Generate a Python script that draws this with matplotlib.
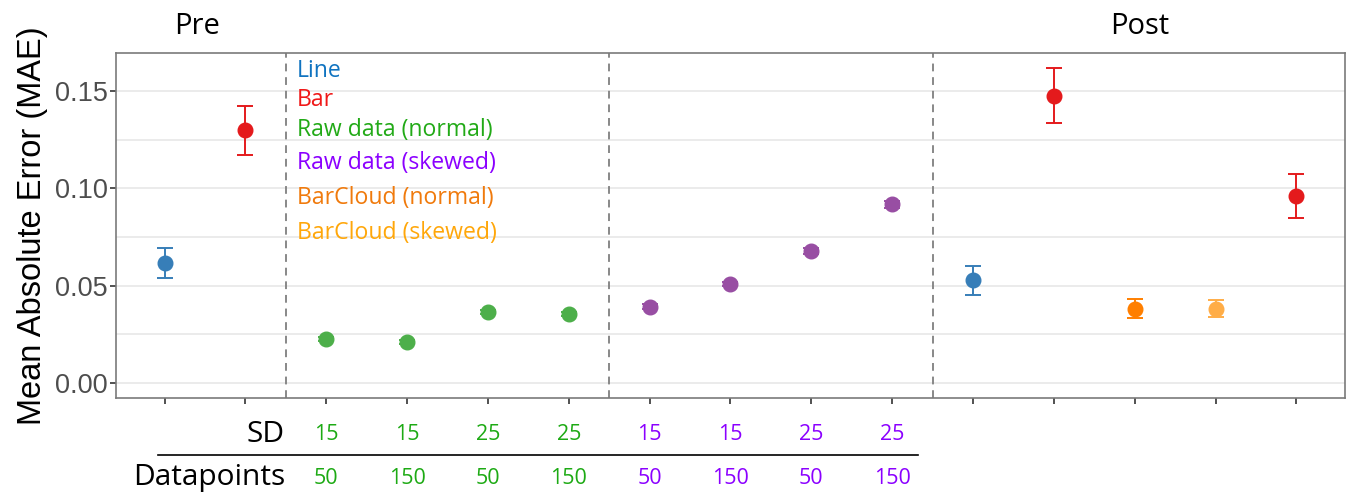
import matplotlib
matplotlib.use("Agg")
import matplotlib.pyplot as plt
from matplotlib import transforms
from matplotlib.lines import Line2D

# ---- data -------------------------------------------------------------
positions = list(range(1, 16))
mae = [0.0615, 0.1300, 0.0224, 0.0210, 0.0365, 0.0355, 0.0392, 0.0509,
       0.0680, 0.0918, 0.0528, 0.1475, 0.0382, 0.0380, 0.0963]
err_low = [0.0075, 0.0130, 0.0010, 0.0010, 0.0012, 0.0012, 0.0012, 0.0012,
           0.0015, 0.0018, 0.0078, 0.0137, 0.0048, 0.0042, 0.0113]
err_high = [0.0077, 0.0125, 0.0010, 0.0010, 0.0012, 0.0012, 0.0012, 0.0012,
            0.0015, 0.0018, 0.0075, 0.0141, 0.0050, 0.0047, 0.0111]
point_colors = ["#377EB8", "#E41A1C"] + ["#4DAF4A"] * 4 + ["#984EA3"] * 4 + \
               ["#377EB8", "#E41A1C", "#FF7F00", "#FFAD47", "#E41A1C"]

legend_labels = ["Line", "Bar", "Raw data (normal)", "Raw data (skewed)",
                 "BarCloud (normal)", "BarCloud (skewed)"]
legend_colors = ["#0F73C0", "#F01818", "#22AA17", "#8B00FF", "#F07A0C", "#FFA70A"]

sd_values = ["15", "15", "25", "25", "15", "15", "25", "25"]
datapoints = ["50", "150", "50", "150", "50", "150", "50", "150"]
table_positions = [3, 4, 5, 6, 7, 8, 9, 10]
table_colors = ["#1DAA14"] * 4 + ["#8B00FF"] * 4

dividers = [2.5, 6.5, 10.5]

# ---- figure -----------------------------------------------------------
W, H = 1346, 493
fig = plt.figure(figsize=(W / 100, H / 100), dpi=100)
ax = fig.add_axes([116 / W, 1 - 398 / H, (1345 - 116) / W, (398 - 53) / H])

label_font = "Open Sans"

ax.set_xlim(0.4, 15.6)
ax.set_ylim(-0.0077, 0.1695)

# horizontal grid (major + minor)
for g in [0.0, 0.025, 0.05, 0.075, 0.10, 0.125, 0.15]:
    ax.axhline(g, color="#EBEBEB", lw=1.4, zorder=0)

for d in dividers:
    ax.axvline(d, color="#888888", lw=1.4, ls=(0, (4, 3)), zorder=1)

for x, y, lo, hi, c in zip(positions, mae, err_low, err_high, point_colors):
    ax.errorbar([x], [y], yerr=[[lo], [hi]], fmt="o", color=c, ms=10.5,
                elinewidth=1.4, capsize=5.5, capthick=1.4, zorder=3)

ax.set_xticks(positions)
ax.set_xticklabels([""] * len(positions))
ax.set_yticks([0.0, 0.05, 0.10, 0.15])
ax.set_yticklabels(["0.00", "0.05", "0.10", "0.15"], fontsize=19.5,
                   color="#4D4D4D", fontfamily="Liberation Sans")
ax.tick_params(axis="both", length=4, width=1.2, color="#333333", pad=2)
for sp in ax.spines.values():
    sp.set_color("#7A7A7A")
    sp.set_linewidth(1.2)

ax.set_ylabel("Mean Absolute Error (MAE)", fontsize=23.5,
              fontfamily="Liberation Sans", labelpad=5)

# legend-like labels inside the panel
legend_y = [0.1605, 0.1452, 0.1298, 0.1128, 0.0948, 0.0773]
for lbl, col, yy in zip(legend_labels, legend_colors, legend_y):
    ax.text(2.64, yy, lbl, color=col, fontsize=16.6, fontfamily=label_font,
            va="center", ha="left")

# section titles
fig.text(197 / W, 1 - 26 / H, "Pre", fontsize=21, fontfamily=label_font,
         ha="center", va="center")
fig.text(1140 / W, 1 - 26 / H, "Post", fontsize=21, fontfamily=label_font,
         ha="center", va="center")

# condition table beneath the axis
trans = transforms.blended_transform_factory(ax.transData, fig.transFigure)
sd_y = 1 - 434 / H
dp_y = 1 - 478 / H
for xp, s, dpt, col in zip(table_positions, sd_values, datapoints, table_colors):
    ax.text(xp, sd_y, s, transform=trans, color=col, fontsize=15.5,
            fontfamily=label_font, ha="center", va="center", clip_on=False)
    ax.text(xp, dp_y, dpt, transform=trans, color=col, fontsize=15.5,
            fontfamily=label_font, ha="center", va="center", clip_on=False)

fig.text(285 / W, sd_y, "SD", fontsize=21.5, fontfamily=label_font,
         ha="right", va="center")
fig.text(285 / W, dp_y, "Datapoints", fontsize=21.5, fontfamily=label_font,
         ha="right", va="center")
fig.add_artist(Line2D([158 / W, 918 / W], [1 - 455 / H, 1 - 455 / H],
                      transform=fig.transFigure, color="black", lw=1.2))

fig.savefig("out.png", dpi=100, facecolor="white")
